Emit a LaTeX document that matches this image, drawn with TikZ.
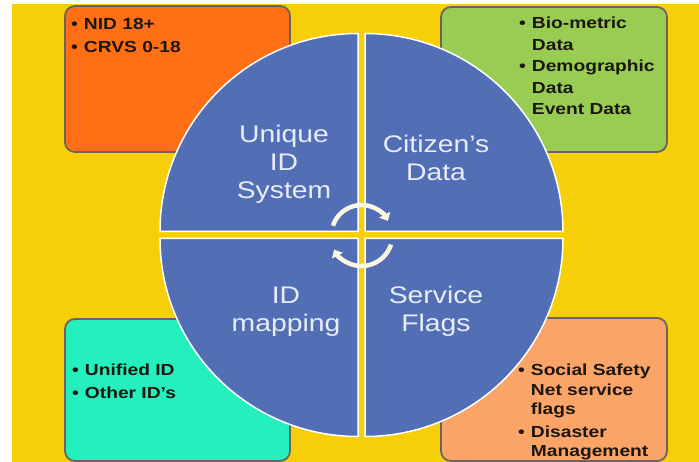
\documentclass[tikz,border=0pt]{standalone}
\usepackage{fontspec}
\setmainfont{Liberation Sans}
\usetikzlibrary{arrows.meta,calc}
\definecolor{bgyellow}{RGB}{246,207,8}
\definecolor{boxorange}{RGB}{255,112,22}
\definecolor{boxgreen}{RGB}{152,204,82}
\definecolor{boxteal}{RGB}{36,240,190}
\definecolor{boxpeach}{RGB}{250,164,104}
\definecolor{boxborder}{RGB}{105,100,100}
\definecolor{sectorblue}{RGB}{82,111,182}
\definecolor{labelwhite}{RGB}{232,236,246}
\definecolor{arrowcream}{RGB}{250,246,228}
\definecolor{boxink}{RGB}{28,22,14}
\begin{document}
\begin{tikzpicture}[x=1pt,y=-1pt,
  infobox/.style={draw=boxborder, line width=1.8pt, rounded corners=10pt, rectangle, inner sep=0pt},
  sector/.style={fill=sectorblue, draw=white, line width=1.5pt},
  sectorlabel/.style={text=labelwhite, font=\fontsize{24}{28}\selectfont, align=center, inner sep=0pt, xscale=1.18},
  boxtext/.style={text=boxink, inner sep=0pt, xscale=1.2, anchor=base west},
  cyclearrow/.style={draw=arrowcream, line width=4.5pt, -{Triangle[width=12pt,length=7pt]}}]
\useasboundingbox (0,0) rectangle (699,462);
\fill[white] (0,0) rectangle (699,462);
\fill[bgyellow] (12,4) rectangle (699,462);

% boxes
\node[infobox, fill=boxorange, minimum width=225pt, minimum height=146pt] (orangebox) at (177.5,79) {};
\node[infobox, fill=boxgreen, minimum width=226pt, minimum height=145pt] (greenbox) at (554,79.5) {};
\node[infobox, fill=boxteal, minimum width=225pt, minimum height=142pt] (tealbox) at (177.5,390) {};
\node[infobox, fill=boxpeach, minimum width=226pt, minimum height=143pt] (peachbox) at (554,389.5) {};

% box texts
\node[boxtext] (orangetext) at (71,29.5) {\fontsize{16}{23.5}\selectfont\bfseries
  \begin{tabular}[t]{@{}l@{\hspace{5pt}}l@{}}•&NID 18+\\•&CRVS 0-18\end{tabular}};
\node[boxtext] (greentext) at (519,29) {\fontsize{16}{21.5}\selectfont\bfseries
  \begin{tabular}[t]{@{}l@{\hspace{5pt}}l@{}}•&Bio-metric\\&Data\\•&Demographic\\&Data\\&Event Data\end{tabular}};
\node[boxtext] (tealtext) at (72,376) {\fontsize{16}{23}\selectfont\bfseries
  \begin{tabular}[t]{@{}l@{\hspace{5pt}}l@{}}•&Unified ID\\•&Other ID’s\end{tabular}};
\node[boxtext] (peachtext) at (518,376) {\fontsize{16}{19.5}\selectfont\bfseries
  \begin{tabular}[t]{@{}l@{\hspace{5pt}}l@{}}•&Social Safety\\&Net service\\&flags\\[3pt]•&Disaster\\&Management\end{tabular}};

% circle sectors
\coordinate (c) at (361.5,235);
\draw[sector] (358,231.5) -- ++(-198,0) arc[start angle=180, end angle=270, radius=198] -- cycle;
\draw[sector] (365,231.5) -- ++(0,-198) arc[start angle=270, end angle=360, radius=198] -- cycle;
\draw[sector] (358,238.5) -- ++(-198,0) arc[start angle=180, end angle=90, radius=198] -- cycle;
\draw[sector] (365,238.5) -- ++(198,0) arc[start angle=0, end angle=90, radius=198] -- cycle;

% sector labels
\node[sectorlabel] (uid) at (284,164) {Unique\\ID\\System};
\node[sectorlabel] (cdata) at (436,157.5) {Citizen’s\\Data};
\node[sectorlabel] (idmap) at (286,311.5) {ID\\mapping};
\node[sectorlabel] (sflags) at (436,311) {Service\\Flags};

% cycle arrows
\draw[cyclearrow] ($(c)+(198:30)$) arc[start angle=198, end angle=332, radius=30];
\draw[cyclearrow] ($(c)+(18:31)$) arc[start angle=18, end angle=152, radius=31];
\end{tikzpicture}
\end{document}
